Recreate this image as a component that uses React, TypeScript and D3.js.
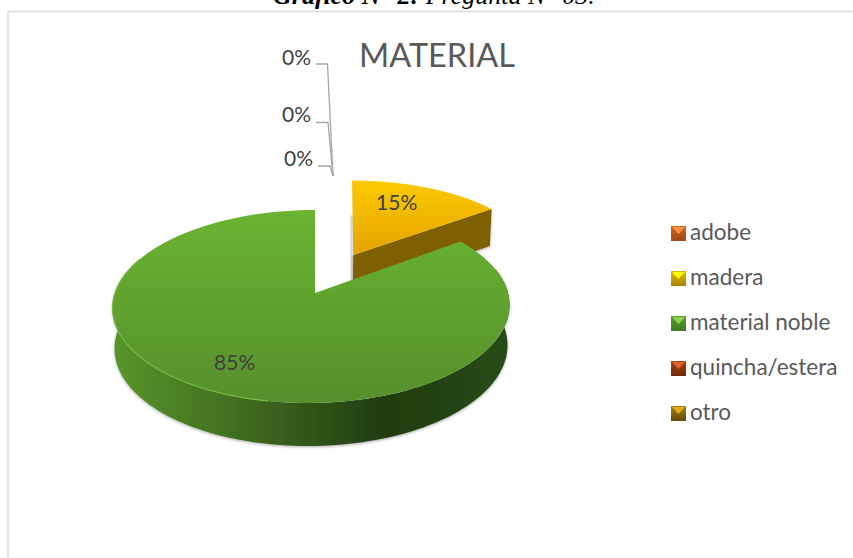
import * as d3 from "d3";
import React from "react";

const categories = ["adobe", "madera", "material noble", "quincha/estera", "otro"];
const percents = [0, 15, 85, 0, 0];
const legendColors = ["#d9601a", "#e6b800", "#5aa02c", "#a8420f", "#a87f10"];
const legendLight = ["#f79646", "#ffff00", "#92d050", "#e0642a", "#e0a820"];
const legendDark = ["#9c4a14", "#a88400", "#3d7a20", "#6e2c08", "#5f4a08"];

const width = 853;
const height = 558;

// perspective of the pie plane, fitted on the reference
const apex = { x: 315, y: 293 };
const rx = 196.5;
const ry = 94.6;
const persp = 0.14;
const explode = 0.478;

type Pt = { x: number; y: number };

// a = pie angle (0 at top, clockwise), r = radius, o = world offset of the slice, z = depth below top face
function project(a: number, r: number, o: number[] = [0, 0], z = 0): Pt {
  const X = r * Math.sin(a) + o[0];
  const Y = r * Math.cos(a) + o[1];
  const w = 1 + persp * Y;
  const skew = -3.5 * (1 - Y);
  const shrink = z > 0 ? 0.99 : 1;
  const sx = apex.x + ((rx * X) / w) * shrink + skew;
  const sy = apex.y - (ry * Y) / w;
  return { x: sx, y: sy + (z > 0 ? z - 3 * Y : 0) };
}

const line = d3
  .line<Pt>()
  .x((d) => d.x)
  .y((d) => d.y);

function arcPts(a0: number, a1: number, o: number[] = [0, 0], z = 0): Pt[] {
  const n = 120;
  return d3.range(n + 1).map((i) => project(a0 + ((a1 - a0) * i) / n, 1, o, z));
}

const slices = d3.pie<number>().sort(null).value((d) => d)(percents);

function Pie3D() {
  const yellow = slices[1];
  const green = slices[2];
  const mid = (yellow.startAngle + yellow.endAngle) / 2;
  const off = [explode * Math.sin(mid), explode * Math.cos(mid)];
  const depth = 40;

  // yellow slice
  const yApex = project(0, 0, off);
  const yTop = [yApex, ...arcPts(yellow.startAngle, yellow.endAngle, off)];
  const yCorner = project(yellow.endAngle, 1, off);
  const ySide = [
    yApex,
    yCorner,
    project(yellow.endAngle, 1, off, depth),
    project(0, 0, off, depth),
  ];
  const yCut = [project(0, 0, off, depth), project(0, 0.5, off)];

  // green slice, the apex itself is not skewed
  const gApex = { x: apex.x, y: apex.y };
  const gTop = [gApex, ...arcPts(green.startAngle, green.endAngle)];
  const sideA0 = (75 * Math.PI) / 180;
  const sideA1 = (285 * Math.PI) / 180;
  const gSide = [...arcPts(sideA0, sideA1), ...arcPts(sideA0, sideA1, [0, 0], depth).reverse()];
  const rim = arcPts((190 * Math.PI) / 180, (292 * Math.PI) / 180);
  const gCut = [gApex, { x: apex.x, y: project(0, 0.55).y }];

  return (
    <g>
      <path d={line(yCut)!} stroke="#777" strokeWidth={2} opacity={0.5} filter="url(#blur)" transform="translate(-1,0)" />
      <path d={line(gCut)!} stroke="#777" strokeWidth={2} opacity={0.5} filter="url(#blur)" transform="translate(1.5,0)" />
      <path d={line(ySide)! + "Z"} fill="#7f6000" filter="url(#shadow)" />
      <path d={line(yTop)! + "Z"} fill="url(#yellowTop)" />
      <path d={line(gSide)! + "Z"} fill="url(#greenSide)" filter="url(#shadow)" />
      <path d={line(gTop)! + "Z"} fill="url(#greenTop)" />
      <path d={line(rim)!} fill="none" stroke="#74ba40" strokeWidth={1.2} />
    </g>
  );
}

export default function App() {
  const legendY = d3.scalePoint<string>().domain(categories).range([233, 413]);

  return (
    <svg
      width={width}
      height={height}
      style={{ position: "absolute", left: 0, top: 0, background: "#fff" }}
      fontFamily="Lato, sans-serif"
    >
      <defs>
        <linearGradient id="greenTop" x1="0" y1="0" x2="0" y2="1">
          <stop offset="0" stopColor="#6ab431" />
          <stop offset="1" stopColor="#568f2c" />
        </linearGradient>
        <linearGradient id="yellowTop" x1="0" y1="0" x2="0" y2="1">
          <stop offset="0" stopColor="#fdca00" />
          <stop offset="1" stopColor="#e3a300" />
        </linearGradient>
        <linearGradient id="greenSide" x1="0" y1="0" x2="1" y2="0">
          <stop offset="0" stopColor="#57962a" />
          <stop offset="0.3" stopColor="#426f20" />
          <stop offset="0.68" stopColor="#213d10" />
          <stop offset="1" stopColor="#264a14" />
        </linearGradient>
        <filter id="shadow" x="-5%" y="-5%" width="110%" height="115%">
          <feDropShadow dx="0" dy="1" stdDeviation="1.5" floodColor="#000" floodOpacity="0.35" />
        </filter>
        <filter id="blur" x="-300%" y="-10%" width="700%" height="120%">
          <feGaussianBlur stdDeviation="0.8" />
        </filter>
        {categories.map((c, i) => (
          <linearGradient key={c} id={`lg${i}`} x1="0" y1="0" x2="0" y2="1">
            <stop offset="0" stopColor={legendColors[i]} />
            <stop offset="1" stopColor={legendDark[i]} />
          </linearGradient>
        ))}
      </defs>

      {/* heading of the page, cut off by the top edge */}
      <text x={273} y={4} fontFamily="'Liberation Serif', serif" fontSize={26} fontStyle="italic" fill="#000">
        <tspan fontWeight="bold">Gráfico N° 2: </tspan>
        <tspan>Pregunta N° 03.</tspan>
      </text>

      {/* chart frame */}
      <path d={`M8,${height}V11.5H${width}`} fill="none" stroke="#d9d9d9" strokeWidth={1.5} />

      <text x={437} y={67} textAnchor="middle" fontSize={32.5} fill="#595959">
        MATERIAL
      </text>

      <Pie3D />

      {/* leader lines of the zero labels */}
      <g fill="none" stroke="#a6a6a6" strokeWidth={1.3}>
        <path d="M316,64H327.5L333,176" />
        <path d="M316,122.5H328L333,176" />
        <path d="M318,166H330L333,176" />
      </g>

      <g fontSize={21} fill="#404040">
        <text x={282} y={65}>{percents[0]}%</text>
        <text x={282} y={122}>{percents[3]}%</text>
        <text x={284} y={166}>{percents[4]}%</text>
        <text x={376} y={210}>{percents[1]}%</text>
        <text x={214} y={370}>{percents[2]}%</text>
      </g>

      <g>
        {categories.map((c, i) => {
          const y = legendY(c)!;
          return (
            <g key={c} transform={`translate(671,${y - 7})`}>
              <rect width={15} height={15} fill={`url(#lg${i})`} />
              <path d="M1,1H14L7.5,8Z" fill={legendLight[i]} />
              <text x={19} y={14} fontSize={22.5} fill="#595959">
                {c}
              </text>
            </g>
          );
        })}
      </g>
    </svg>
  );
}
